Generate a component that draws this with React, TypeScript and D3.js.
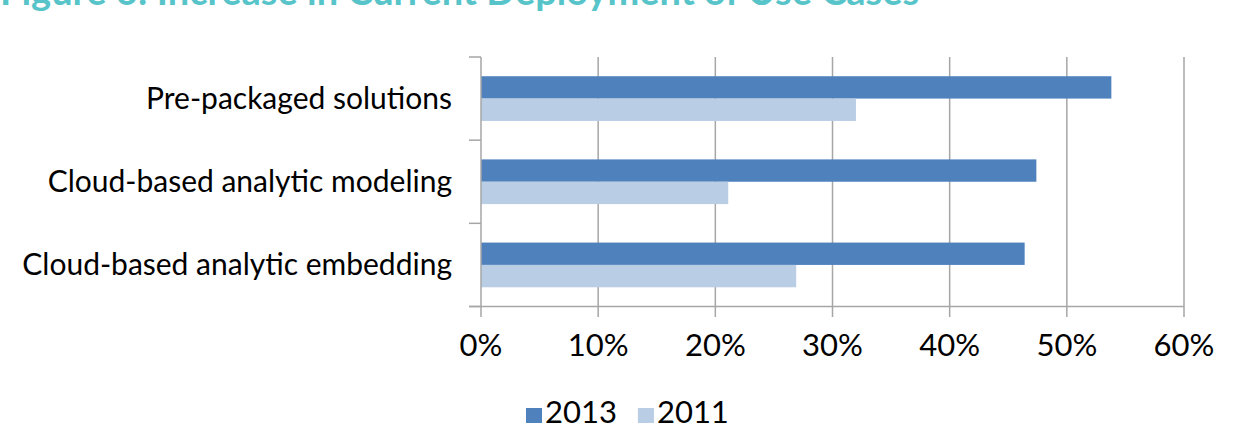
import { useEffect, useRef } from 'react';
import * as d3 from 'd3';

const TITLE = 'Figure 6: Increase in Current Deployment of Use Cases';
const categories = ['Pre-packaged solutions', 'Cloud-based analytic modeling', 'Cloud-based analytic embedding'];
const seriesNames = ['2013', '2011'];
const values2013 = [0.538, 0.474, 0.464];
const values2011 = [0.32, 0.211, 0.269];
const xTicks = [0, 0.1, 0.2, 0.3, 0.4, 0.5, 0.6];

const WIDTH = 1237;
const HEIGHT = 429;
const COLORS = ['#4F81BD', '#B9CDE5'];
const GRID = '#A6A6A6';
const FONT = 'Lato, "Open Sans", sans-serif';

export default function App() {
  const svgRef = useRef<SVGSVGElement>(null);

  useEffect(() => {
    if (!svgRef.current) return;
    const svg = d3.select(svgRef.current);
    svg.selectAll('*').remove();

    const x = d3.scaleLinear().domain([0, 0.6]).range([481, 1184]);
    const y = d3.scaleBand<string>().domain(categories).range([57, 306.5]).padding(0);
    const ySub = d3.scaleBand<string>().domain(seriesNames).range([0, y.bandwidth()]).paddingInner(0).paddingOuter(0.86);

    // titre coupé en haut, comme dans l'original
    svg
      .append('text')
      .attr('x', 0)
      .attr('y', 5)
      .attr('fill', '#57C4C9')
      .style('font-family', FONT)
      .style('font-size', '38px')
      .style('font-weight', '700')
      .text(TITLE);

    // grille verticale
    svg
      .append('g')
      .selectAll('line')
      .data(xTicks.slice(1))
      .join('line')
      .attr('x1', (d) => x(d))
      .attr('x2', (d) => x(d))
      .attr('y1', 57)
      .attr('y2', 317)
      .attr('stroke', GRID)
      .attr('stroke-width', 1.5);

    // barres
    const rows = categories.map((c, i) => ({ c, vals: [values2013[i], values2011[i]] }));
    const groups = svg
      .append('g')
      .selectAll('g')
      .data(rows)
      .join('g')
      .attr('transform', (d) => `translate(0,${y(d.c)})`);
    groups
      .selectAll('rect')
      .data((d) => d.vals.map((v, j) => ({ v, s: seriesNames[j], color: COLORS[j] })))
      .join('rect')
      .attr('x', x(0))
      .attr('y', (d) => ySub(d.s)!)
      .attr('width', (d) => x(d.v) - x(0))
      .attr('height', ySub.bandwidth())
      .attr('fill', (d) => d.color);

    // axe vertical + graduations
    const left = svg.append('g');
    left
      .append('line')
      .attr('x1', x(0))
      .attr('x2', x(0))
      .attr('y1', 57)
      .attr('y2', 317)
      .attr('stroke', GRID)
      .attr('stroke-width', 1.5);
    const edges = [...categories.map((c) => y(c)!), 306.5];
    left
      .selectAll('line.tick')
      .data(edges)
      .join('line')
      .attr('class', 'tick')
      .attr('x1', 469)
      .attr('x2', x(0))
      .attr('y1', (d) => d)
      .attr('y2', (d) => d)
      .attr('stroke', GRID)
      .attr('stroke-width', 1.5);

    // axe horizontal
    svg
      .append('line')
      .attr('x1', 469)
      .attr('x2', x(0.6))
      .attr('y1', 306.5)
      .attr('y2', 306.5)
      .attr('stroke', GRID)
      .attr('stroke-width', 1.5);

    svg
      .append('g')
      .selectAll('text')
      .data(xTicks)
      .join('text')
      .attr('x', (d) => x(d))
      .attr('y', 356)
      .attr('text-anchor', 'middle')
      .attr('fill', '#000')
      .style('font-family', FONT)
      .style('font-size', '31px')
      .text((d) => d3.format('.0%')(d));

    // libellés des catégories
    svg
      .append('g')
      .selectAll('text')
      .data(categories)
      .join('text')
      .attr('x', 452)
      .attr('y', (d) => y(d)! + y.bandwidth() / 2 + 10)
      .attr('text-anchor', 'end')
      .attr('fill', '#000')
      .style('font-family', FONT)
      .style('font-size', '30px')
      .text((d) => d);

    // légende
    const legend = svg.append('g').attr('transform', 'translate(526,0)');
    let lx = 0;
    seriesNames.forEach((s, i) => {
      legend.append('rect').attr('x', lx).attr('y', 408).attr('width', 16).attr('height', 15).attr('fill', COLORS[i]);
      const t = legend
        .append('text')
        .attr('x', lx + 19)
        .attr('y', 423)
        .attr('fill', '#000')
        .style('font-family', FONT)
        .style('font-size', '31px')
        .text(s);
      lx += 19 + (t.node() as SVGTextElement).getComputedTextLength() + 21;
    });
  }, []);

  return (
    <svg
      ref={svgRef}
      width={WIDTH}
      height={HEIGHT}
      viewBox={`0 0 ${WIDTH} ${HEIGHT}`}
      style={{ position: 'absolute', left: 0, top: 0, background: '#fff' }}
    />
  );
}
